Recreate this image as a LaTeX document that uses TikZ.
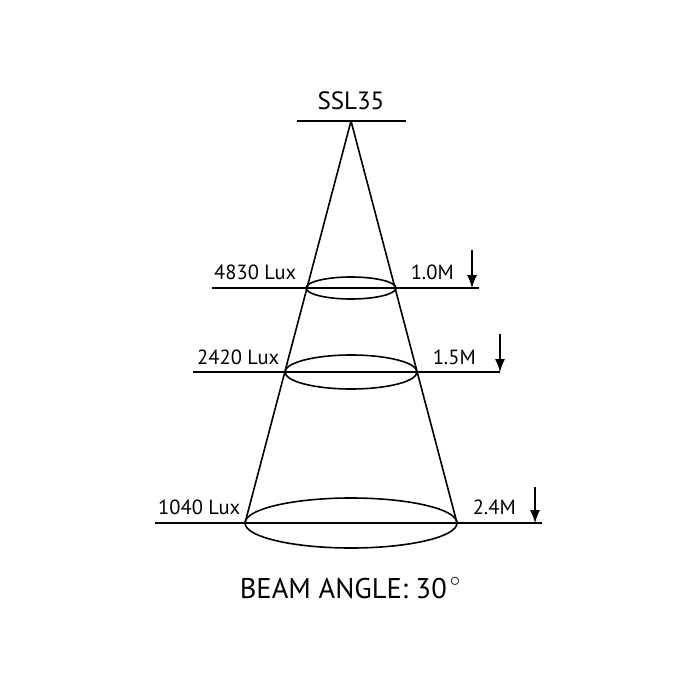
\documentclass[tikz,border=0pt]{standalone}
\usepackage{fontspec}
\setmainfont{PT Sans}
\usetikzlibrary{arrows.meta}
\begin{document}
\begin{tikzpicture}[x=1pt,y=-1pt,line width=1.6pt,
  lbl/.style={font=\fontsize{20.5}{22}\selectfont,inner sep=0pt},
  dimarrow/.style={line width=1.1pt,-{Latex[length=13pt,width=10pt]}}]
\useasboundingbox (0,0) rectangle (700,700);
\fill[white] (0,0) rectangle (700,700);
% top
\node[font=\fontsize{25}{28}\selectfont,inner sep=0pt,anchor=base] (title) at (351,110) {SSL35};
\coordinate (tl) at (297,121);
\coordinate (tr) at (406,121);
\coordinate (apex) at (351,121);
\draw (tl) -- (tr);
% levels
\coordinate (l1a) at (212,288); \coordinate (l1b) at (479,288);
\coordinate (l2a) at (193,372); \coordinate (l2b) at (500,372);
\coordinate (l3a) at (155,523); \coordinate (l3b) at (542,523);
\draw (l1a) -- (l1b);
\draw (l2a) -- (l2b);
\draw (l3a) -- (l3b);
\draw (351,288) ellipse [x radius=45, y radius=11];
\draw (351,372) ellipse [x radius=66, y radius=17];
\draw (351,523) ellipse [x radius=106, y radius=25];
\coordinate (bl) at (245,523); \coordinate (br) at (457,523);
\draw (apex) -- (bl);
\draw (apex) -- (br);
% arrows
\coordinate (a1s) at (472,250); \coordinate (a1e) at (472,288);
\coordinate (a2s) at (500,334); \coordinate (a2e) at (500,372);
\coordinate (a3s) at (535,487); \coordinate (a3e) at (535,523);
\draw[dimarrow] (a1s) -- (a1e);
\draw[dimarrow] (a2s) -- (a2e);
\draw[dimarrow] (a3s) -- (a3e);
% labels
\node[lbl,anchor=base east] (lux1) at (297,279) {4830 Lux};
\node[lbl,anchor=base west] (m1) at (410,279) {1.0M};
\node[lbl,anchor=base east] (lux2) at (280,364) {2420 Lux};
\node[lbl,anchor=base west] (m2) at (432,364) {1.5M};
\node[lbl,anchor=base east] (lux3) at (241,514) {1040 Lux};
\node[lbl,anchor=base west] (m3) at (472,514) {2.4M};
\node[font=\fontsize{28.5}{30}\selectfont,inner sep=0pt,anchor=base] (beam) at (350,598) {BEAM ANGLE: 30\hspace{3pt}\raisebox{0.42em}{\fontsize{20}{20}\selectfont$\circ$}};
\end{tikzpicture}
\end{document}
